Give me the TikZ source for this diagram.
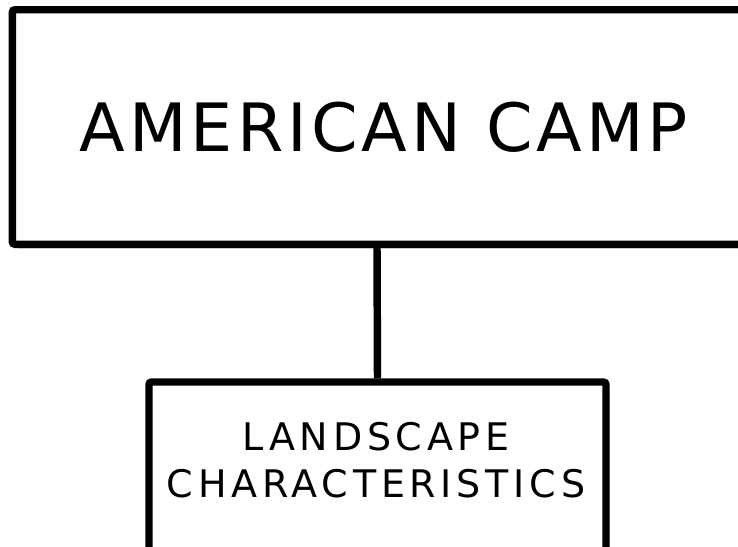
\documentclass[tikz,border=0pt]{standalone}
\usepackage{fontspec}
\setmainfont{DejaVu Sans}
\usetikzlibrary{shadows}
\begin{document}
\begin{tikzpicture}[x=0.75pt,y=-0.75pt,
  boxstyle/.style={draw=black,line width=5.6pt,fill=white,rounded corners=2pt,inner sep=0pt,
    drop shadow={shadow xshift=2.5pt,shadow yshift=-3pt,opacity=0.3,fill=black}},
  linkstyle/.style={line width=5.6pt,draw=black}]
\useasboundingbox (0,0) rectangle (738,546);
\clip (0,0) rectangle (738,546);
\fill[white] (0,0) rectangle (738,546);
\node[boxstyle,minimum width=547.1pt,minimum height=175.9pt] (camp) at (377,127) {};
\node[boxstyle,minimum width=342.75pt,minimum height=133.5pt] (land) at (377.5,471) {};
\draw[linkstyle] (camp.south) -- (land.north);
\node[font={\fontsize{50pt}{60pt}\selectfont\addfontfeature{LetterSpace=6}}] (t1) at (384,127) {AMERICAN CAMP};
\node[align=center,font={\fontsize{28.5pt}{35pt}\selectfont\addfontfeature{LetterSpace=12.5}}] (t2) at (376,460) {LANDSCAPE\\CHARACTERISTICS};
\end{tikzpicture}
\end{document}
